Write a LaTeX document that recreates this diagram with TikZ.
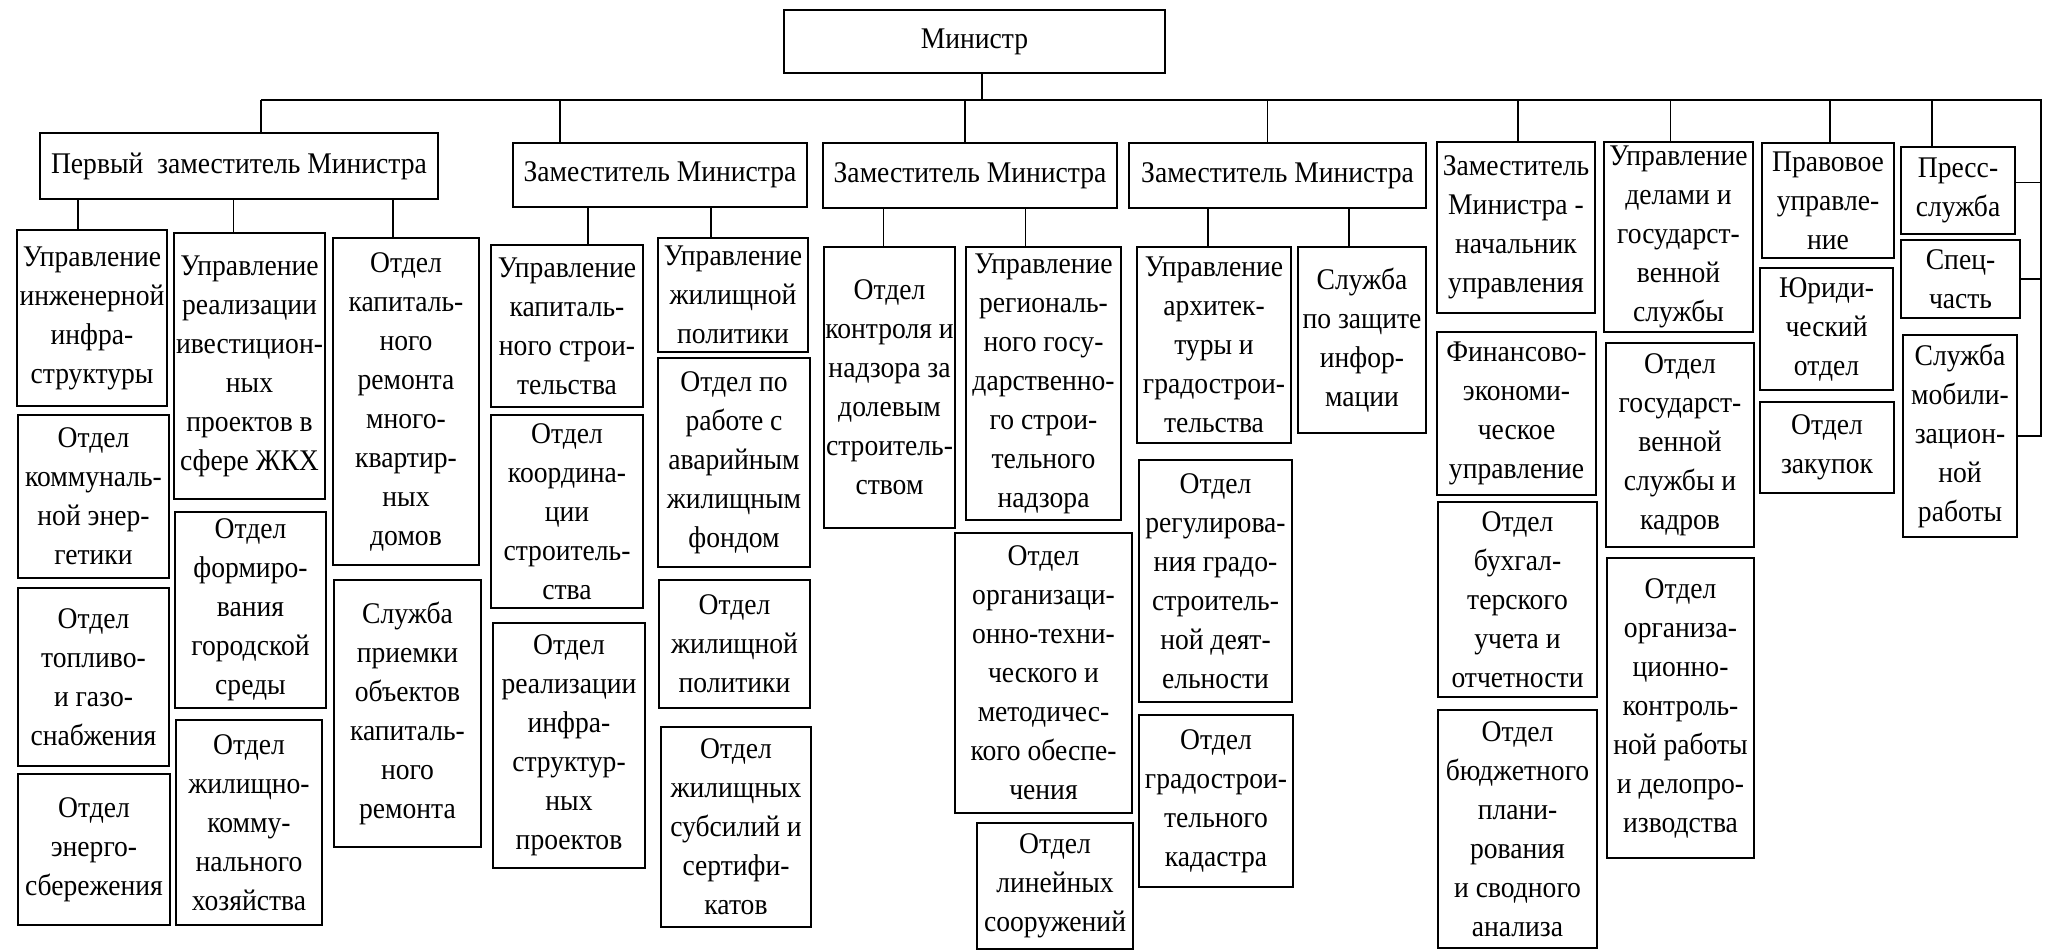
\documentclass[tikz,border=0pt]{standalone}
\usepackage{fontspec}
\setmainfont{Liberation Serif}[FakeStretch=0.92]
\usepackage{tikz}

\tikzset{
  orgnode/.style={draw, line width=1.1pt, inner sep=0pt, align=center,
    font=\fontsize{15}{19.5}\selectfont},
  link/.style={line width=0.9pt}
}
% box from corner (x1,y1) to (x2,y2), in pixel units of the picture
\newcommand{\orgbox}[6]{%
  \node[orgnode, minimum width={(#4-#2)*0.5pt}, minimum height={(#5-#3)*0.5pt}]
    (#1) at ({(#2+#4)/2},{(#3+#5)/2}) {#6};}

\begin{document}
\begin{tikzpicture}[x=0.5pt,y=0.5pt,yscale=-1,xscale=1]
        \useasboundingbox (0,0) rectangle (2049,951);

        % Top
        \orgbox{min}{784}{10}{1165}{73}{Министр}
        \coordinate (bus) at (982,100);
        \coordinate (busend) at (2041,100);

        % Deputies
        \orgbox{dep1}{40}{133}{438}{199}{Первый~ заместитель Министра}
        \orgbox{dep2}{513}{143}{807}{207}{Заместитель Министра}
        \orgbox{dep3}{823}{143}{1117}{208}{Заместитель Министра}
        \orgbox{dep4}{1129}{143}{1426}{208}{Заместитель Министра}
        \orgbox{fin}{1437}{142}{1595}{313}{Заместитель\\Министра -\\начальник\\управления}
        \orgbox{affairs}{1604}{142}{1753}{332}{Управление\\делами и\\государст-\\венной\\службы}
        \orgbox{legal}{1762}{143}{1894}{258}{Правовое\\управле-\\ние}
        \orgbox{press}{1901}{147}{2015}{234}{Пресс-\\служба}

        % First deputy
        \orgbox{infra}{17}{230}{167}{406}{Управление\\инженерной\\инфра-\\структуры}
        \orgbox{energy}{18}{415}{169}{578}{Отдел\\коммуналь-\\ной энер-\\гетики}
        \orgbox{fuel}{18}{588}{169}{766}{Отдел\\топливо-\\и газо-\\снабжения}
        \orgbox{saving}{18}{774}{170}{925}{Отдел\\энерго-\\сбережения}
        \orgbox{invest}{174}{233}{325}{499}{Управление\\реализации\\ивестицион-\\ных\\проектов в\\сфере ЖКХ}
        \orgbox{urban}{175}{512}{326}{708}{Отдел\\формиро-\\вания\\городской\\среды}
        \orgbox{housing}{176}{720}{322}{925}{Отдел\\жилищно-\\комму-\\нального\\хозяйства}
        \orgbox{repair}{333}{238}{479}{565}{Отдел\\капиталь-\\ного\\ремонта\\много-\\квартир-\\ных\\домов}
        \orgbox{accept}{334}{580}{481}{847}{Служба\\приемки\\объектов\\капиталь-\\ного\\ремонта}

        % Second deputy
        \orgbox{build}{491}{245}{643}{407}{Управление\\капиталь-\\ного строи-\\тельства}
        \orgbox{coord}{491}{415}{643}{608}{Отдел\\координа-\\ции\\строитель-\\ства}
        \orgbox{projects}{493}{623}{645}{868}{Отдел\\реализации\\инфра-\\структур-\\ных\\проектов}
        \orgbox{policy}{658}{238}{808}{352}{Управление\\жилищной\\политики}
        \orgbox{fund}{658}{358}{810}{567}{Отдел по\\работе с\\аварийным\\жилищным\\фондом}
        \orgbox{hpolicy}{659}{580}{810}{708}{Отдел\\жилищной\\политики}
        \orgbox{subsidy}{661}{727}{811}{927}{Отдел\\жилищных\\субсилий и\\сертифи-\\катов}

        % Third deputy
        \orgbox{shared}{824}{247}{955}{528}{Отдел\\контроля и\\надзора за\\долевым\\строитель-\\ством}
        \orgbox{region}{966}{247}{1121}{520}{Управление\\региональ-\\ного госу-\\дарственно-\\го строи-\\тельного\\надзора}
        \orgbox{method}{955}{533}{1132}{813}{Отдел\\организаци-\\онно-техни-\\ческого и\\методичес-\\кого обеспе-\\чения}
        \orgbox{lines}{977}{823}{1133}{949}{Отдел\\линейных\\сооружений}

        % Fourth deputy
        \orgbox{arch}{1137}{247}{1291}{443}{Управление\\архитек-\\туры и\\градострои-\\тельства}
        \orgbox{regul}{1139}{460}{1292}{702}{Отдел\\регулирова-\\ния градо-\\строитель-\\ной деят-\\ельности}
        \orgbox{cadastre}{1139}{715}{1293}{887}{Отдел\\градострои-\\тельного\\кадастра}
        \orgbox{secur}{1298}{247}{1426}{433}{Служба\\по защите\\инфор-\\мации}

        % Finance
        \orgbox{econ}{1437}{332}{1596}{495}{Финансово-\\экономи-\\ческое\\управление}
        \orgbox{account}{1438}{502}{1597}{697}{Отдел\\бухгал-\\терского\\учета и\\отчетности}
        \orgbox{budget}{1438}{710}{1597}{948}{Отдел\\бюджетного\\плани-\\рования\\и сводного\\анализа}

        % Affairs
        \orgbox{staff}{1606}{343}{1754}{547}{Отдел\\государст-\\венной\\службы и\\кадров}
        \orgbox{control}{1607}{558}{1754}{858}{Отдел\\организа-\\ционно-\\контроль-\\ной работы\\и делопро-\\изводства}

        % Legal
        \orgbox{jur}{1760}{268}{1893}{390}{Юриди-\\ческий\\отдел}
        \orgbox{purch}{1760}{402}{1894}{493}{Отдел\\закупок}

        % Right column
        \orgbox{spec}{1901}{240}{2020}{318}{Спец-\\часть}
        \orgbox{mobil}{1903}{335}{2017}{537}{Служба\\мобили-\\зацион-\\ной\\работы}

        % Bus
        \draw[link] (min.south -| bus) -- (bus);
        \draw[link] ([xshift=11pt]dep1.north |- bus) -- (busend) -- (busend |- mobil.east) -- (mobil.east);
        \draw[link] ([xshift=11pt]dep1.north) -- ([xshift=11pt]dep1.north |- bus);
        \draw[link] ([xshift=-50pt]dep2.north) -- ([xshift=-50pt]dep2.north |- bus);
        \draw[link] ([xshift=-2.5pt]dep3.north) -- ([xshift=-2.5pt]dep3.north |- bus);
        \draw[link] ([xshift=-5pt]dep4.north) -- ([xshift=-5pt]dep4.north |- bus);
        \draw[link] ([xshift=1pt]fin.north) -- ([xshift=1pt]fin.north |- bus);
        \draw[link] ([xshift=-4pt]affairs.north) -- ([xshift=-4pt]affairs.north |- bus);
        \draw[link] ([xshift=1pt]legal.north) -- ([xshift=1pt]legal.north |- bus);
        \draw[link] ([xshift=-13pt]press.north) -- ([xshift=-13pt]press.north |- bus);
        \draw[link] ([yshift=-4pt]press.east) -- ([yshift=-4pt]press.east -| busend);
        \draw[link] (spec.east) -- (spec.east -| busend);

        % Sub-units
        \draw[link] ([xshift=-7pt]infra.north) -- ([xshift=-7pt]infra.north |- dep1.south);
        \draw[link] ([xshift=-8pt]invest.north) -- ([xshift=-8pt]invest.north |- dep1.south);
        \draw[link] ([xshift=-6.5pt]repair.north) -- ([xshift=-6.5pt]repair.north |- dep1.south);
        \draw[link] ([xshift=10.5pt]build.north) -- ([xshift=10.5pt]build.north |- dep2.south);
        \draw[link] ([xshift=-11pt]policy.north) -- ([xshift=-11pt]policy.north |- dep2.south);
        \draw[link] ([xshift=-3pt]shared.north) -- ([xshift=-3pt]shared.north |- dep3.south);
        \draw[link] ([xshift=-9pt]region.north) -- ([xshift=-9pt]region.north |- dep3.south);
        \draw[link] ([xshift=-3pt]arch.north) -- ([xshift=-3pt]arch.north |- dep4.south);
        \draw[link] ([xshift=-6.5pt]secur.north) -- ([xshift=-6.5pt]secur.north |- dep4.south);

\end{tikzpicture}
\end{document}
